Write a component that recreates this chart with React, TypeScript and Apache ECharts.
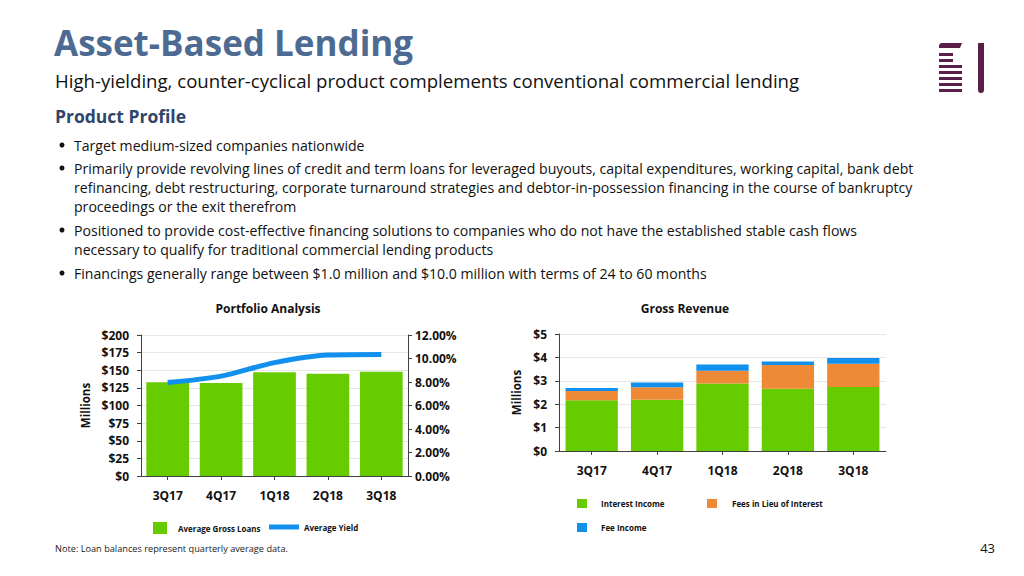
import React, { useEffect, useRef } from "react";
import * as echarts from "echarts";

const quarters = ["3Q17", "4Q17", "1Q18", "2Q18", "3Q18"];
const avgGrossLoans = [133, 132, 147, 145, 148];
const avgYield = [7.95, 8.5, 9.65, 10.3, 10.35];
const interestIncome = [2.17, 2.19, 2.88, 2.66, 2.74];
const feesInLieu = [0.39, 0.53, 0.55, 1.02, 0.99];
const feeIncome = [0.13, 0.21, 0.27, 0.14, 0.24];

const leftTicksDollar = { min: 0, max: 200, interval: 25 };
const leftTicksPct = { min: 0, max: 12, interval: 2 };
const rightTicksDollar = { min: 0, max: 5, interval: 1 };

const bullets: { text: string; y: number; bullet: boolean }[] = [
  { text: "Target medium-sized companies nationwide", y: 145, bullet: true },
  { text: "Primarily provide revolving lines of credit and term loans for leveraged buyouts, capital expenditures, working capital, bank debt", y: 168, bullet: true },
  { text: "refinancing, debt restructuring, corporate turnaround strategies and debtor-in-possession financing in the course of bankruptcy", y: 187, bullet: false },
  { text: "proceedings or the exit therefrom", y: 206, bullet: false },
  { text: "Positioned to provide cost-effective financing solutions to companies who do not have the established stable cash flows", y: 230, bullet: true },
  { text: "necessary to qualify for traditional commercial lending products", y: 249, bullet: false },
  { text: "Financings generally range between $1.0 million and $10.0 million with terms of 24 to 60 months", y: 273, bullet: true },
];

const FONT = "'Open Sans', sans-serif";
const GREEN = "#66cc00";
const BLUE = "#1190ee";
const ORANGE = "#ee8a35";
const PURPLE = "#5a1f48";

export default function App() {
  const ref = useRef<HTMLDivElement>(null);
  useEffect(() => {
    if (!ref.current) return;
    const chart = echarts.init(ref.current, undefined, { renderer: "svg" });

    const axisLabel = { fontFamily: FONT, fontSize: 12, fontWeight: "bold" as const, color: "#111" };
    const axisLine = { show: true, lineStyle: { color: "#404040", width: 1 } };
    const axisTick = { show: true, length: 4, lineStyle: { color: "#404040" } };
    const splitLine = { show: true, lineStyle: { color: "#e6e6e6", width: 1 } };

    const legendBase = {
      icon: "rect",
      orient: "horizontal" as const,
      padding: 0,
      selectedMode: false,
      textStyle: { fontFamily: FONT, fontSize: 8, fontWeight: "bold" as const, color: "#111" },
    };

    const graphics: any[] = [];
    graphics.push({
      type: "text", x: 54, y: 42,
      style: { text: "Asset-Based Lending", font: `bold 35px ${FONT}`, fill: "#4d6a93", textVerticalAlign: "middle" },
    });
    graphics.push({
      type: "text", x: 55, y: 80,
      style: { text: "High-yielding, counter-cyclical product complements conventional commercial lending", font: `18.6px ${FONT}`, fill: "#111", textVerticalAlign: "middle" },
    });
    graphics.push({
      type: "text", x: 55, y: 116,
      style: { text: "Product Profile", font: `bold 17.5px ${FONT}`, fill: "#2d4669", textVerticalAlign: "middle" },
    });
    bullets.forEach((b) => {
      if (b.bullet) {
        graphics.push({ type: "circle", shape: { cx: 62, cy: b.y, r: 2.5 }, style: { fill: "#111" } });
      }
      graphics.push({
        type: "text", x: 74, y: b.y,
        style: { text: b.text, font: `14.1px ${FONT}`, fill: "#111", textVerticalAlign: "middle" },
      });
    });
    graphics.push({
      type: "text", x: 268, y: 308,
      style: { text: "Portfolio Analysis", font: `bold 12px ${FONT}`, fill: "#111", textAlign: "center", textVerticalAlign: "middle" },
    });
    graphics.push({
      type: "text", x: 685, y: 308,
      style: { text: "Gross Revenue", font: `bold 12px ${FONT}`, fill: "#111", textAlign: "center", textVerticalAlign: "middle" },
    });
    graphics.push({
      type: "text", x: 55, y: 548,
      style: { text: "Note: Loan balances represent quarterly average data.", font: `9.2px ${FONT}`, fill: "#222", textVerticalAlign: "middle" },
    });
    graphics.push({
      type: "text", x: 995, y: 548,
      style: { text: "43", font: `13px ${FONT}`, fill: "#111", textAlign: "right", textVerticalAlign: "middle" },
    });
    // logo
    graphics.push({
      type: "polygon",
      shape: { points: [[939, 48], [939, 45], [941, 43], [962, 43], [960, 48]] },
      style: { fill: PURPLE },
    });
    [53, 59].forEach((y) => graphics.push({ type: "rect", shape: { x: 939, y, width: 14, height: 3 }, style: { fill: PURPLE } }));
    [65, 71, 77, 83, 89].forEach((y) => graphics.push({ type: "rect", shape: { x: 939, y, width: 23, height: 3 }, style: { fill: PURPLE } }));
    graphics.push({ type: "rect", shape: { x: 978, y: 43, width: 6, height: 50, r: [0, 0, 3, 3] }, style: { fill: PURPLE } });

    chart.setOption({
      animation: false,
      backgroundColor: "#ffffff",
      graphic: graphics,
      grid: [
        { left: 141, right: 1024 - 408, top: 335, bottom: 576 - 476 },
        { left: 559, right: 1024 - 886, top: 334, bottom: 576 - 451 },
      ],
      xAxis: [
        {
          type: "category", gridIndex: 0, data: quarters,
          axisLine, axisTick: { ...axisTick, alignWithLabel: true },
          axisLabel: { ...axisLabel, margin: 13 },
        },
        {
          type: "category", gridIndex: 1, data: quarters,
          axisLine, axisTick: { ...axisTick, alignWithLabel: true },
          axisLabel: { ...axisLabel, margin: 13 },
        },
      ],
      yAxis: [
        {
          type: "value", gridIndex: 0, ...leftTicksDollar,
          axisLine, axisTick, splitLine,
          axisLabel: { ...axisLabel, formatter: (v: number) => `$${v}`, margin: 12 },
          name: "Millions", nameLocation: "middle", nameGap: 50, nameRotate: 90,
          nameTextStyle: { fontFamily: FONT, fontSize: 11.5, fontWeight: "bold", color: "#111" },
        },
        {
          type: "value", gridIndex: 0, position: "right", ...leftTicksPct,
          axisLine, axisTick, splitLine: { show: false },
          axisLabel: { ...axisLabel, formatter: (v: number) => `${v.toFixed(2)}%`, margin: 7 },
        },
        {
          type: "value", gridIndex: 1, ...rightTicksDollar,
          axisLine, axisTick, splitLine,
          axisLabel: { ...axisLabel, formatter: (v: number) => `$${v}`, margin: 12 },
          name: "Millions", nameLocation: "middle", nameGap: 37, nameRotate: 90,
          nameTextStyle: { fontFamily: FONT, fontSize: 11.5, fontWeight: "bold", color: "#111" },
        },
      ],
      legend: [
        { ...legendBase, left: 153, top: 522, itemWidth: 14, itemHeight: 12, data: ["Average Gross Loans"], textStyle: { ...legendBase.textStyle, padding: [0, 0, 0, 6] } },
        { ...legendBase, left: 269, top: 523, itemWidth: 30, itemHeight: 5, data: [{ name: "Average Yield", itemStyle: { color: BLUE } }], textStyle: { ...legendBase.textStyle, padding: [0, 0, 0, 0] } },
        { ...legendBase, left: 577, top: 499, itemWidth: 10, itemHeight: 9, data: ["Interest Income"], textStyle: { ...legendBase.textStyle, padding: [0, 0, 0, 9] } },
        { ...legendBase, left: 707, top: 499, itemWidth: 10, itemHeight: 9, data: ["Fees in Lieu of Interest"], textStyle: { ...legendBase.textStyle, padding: [0, 0, 0, 10] } },
        { ...legendBase, left: 577, top: 523, itemWidth: 10, itemHeight: 9, data: ["Fee Income"], textStyle: { ...legendBase.textStyle, padding: [0, 0, 0, 9] } },
      ],
      series: [
        {
          name: "Average Gross Loans", type: "bar", xAxisIndex: 0, yAxisIndex: 0,
          data: avgGrossLoans, barCategoryGap: "20%", itemStyle: { color: GREEN },
        },
        {
          name: "Average Yield", type: "line", xAxisIndex: 0, yAxisIndex: 1,
          data: avgYield, smooth: 0.3, showSymbol: false, symbol: "none",
          lineStyle: { color: BLUE, width: 5 }, itemStyle: { color: BLUE },
        },
        {
          name: "Interest Income", type: "bar", xAxisIndex: 1, yAxisIndex: 2, stack: "rev",
          data: interestIncome, barCategoryGap: "20%", itemStyle: { color: GREEN },
        },
        {
          name: "Fees in Lieu of Interest", type: "bar", xAxisIndex: 1, yAxisIndex: 2, stack: "rev",
          data: feesInLieu, itemStyle: { color: ORANGE },
        },
        {
          name: "Fee Income", type: "bar", xAxisIndex: 1, yAxisIndex: 2, stack: "rev",
          data: feeIncome, itemStyle: { color: BLUE },
        },
      ],
    });
    return () => chart.dispose();
  }, []);
  return (
    <div
      ref={ref}
      style={{ position: "fixed", left: 0, top: 0, width: 1024, height: 576, background: "#fff" }}
    />
  );
}
